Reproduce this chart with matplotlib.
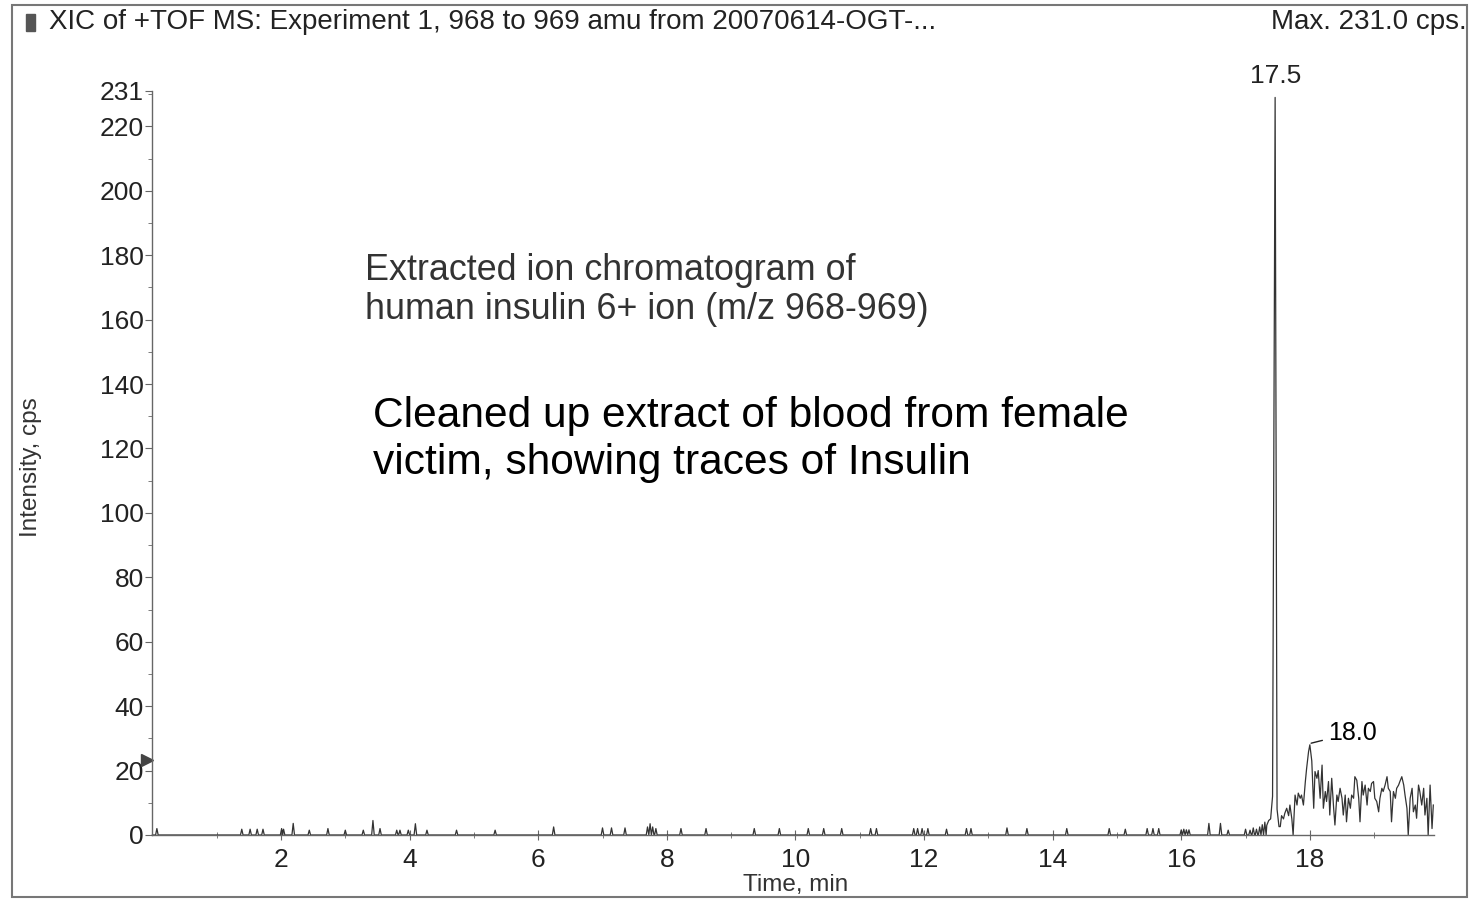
import numpy as np
import matplotlib.pyplot as plt
from matplotlib.patches import Rectangle

plt.rcParams['font.family'] = ['Liberation Sans', 'DejaVu Sans']

# small baseline spikes (time in min, intensity in cps)
spike_t = [0.07, 1.39, 1.52, 1.63, 1.72, 2.01, 2.04, 2.19, 2.44, 2.73, 3.00, 3.28,
           3.43, 3.54, 3.80, 3.85, 3.98, 4.09, 4.27, 4.73, 5.33, 6.24, 7.00, 7.14,
           7.35, 7.70, 7.74, 7.78, 7.83, 8.22, 8.61, 9.36, 9.75, 10.20, 10.44, 10.72,
           11.17, 11.26, 11.84, 11.90, 11.97, 12.06, 12.35, 12.66, 12.73, 13.29, 13.60,
           14.22, 14.88, 15.13, 15.47, 15.56, 15.65, 16.00, 16.04, 16.08, 16.12, 16.43,
           16.61, 16.73, 17.00, 17.07, 17.12, 17.17, 17.22, 17.26, 17.30]
spike_h = [2.0, 1.8, 1.8, 1.8, 1.8, 2.0, 1.8, 3.6, 1.5, 2.0, 1.5, 1.5,
           4.5, 2.0, 1.5, 1.5, 1.5, 3.5, 1.5, 1.5, 1.5, 2.5, 2.2, 2.2,
           2.2, 2.5, 3.5, 2.5, 2.0, 2.0, 2.0, 2.0, 2.0, 2.0, 2.0, 2.0,
           2.0, 2.0, 2.0, 2.0, 2.0, 2.0, 1.8, 2.0, 2.0, 2.2, 2.0,
           2.0, 2.0, 1.8, 2.0, 2.0, 2.0, 1.6, 1.8, 1.6, 1.6, 3.6,
           3.6, 1.5, 1.8, 1.5, 2.2, 1.8, 2.5, 3.2, 4.0]

# main insulin peak
peak_t = [17.33, 17.36, 17.39, 17.42, 17.46, 17.49, 17.52]
peak_h = [3.0, 4.5, 5.0, 12.0, 229.0, 8.0, 2.6]

# noisy tail after the peak
tail_t = [17.54, 17.56, 17.59, 17.61, 17.64, 17.67, 17.69, 17.72, 17.74, 17.77,
          17.80, 17.82, 17.85, 17.87, 17.90, 17.93, 17.95, 17.98, 18.00, 18.03,
          18.06, 18.08, 18.11, 18.13, 18.16, 18.19, 18.21, 18.24, 18.26, 18.29,
          18.31, 18.34, 18.37, 18.39, 18.42, 18.44, 18.47, 18.50, 18.52, 18.55,
          18.57, 18.60, 18.63, 18.65, 18.68, 18.70, 18.73, 18.76, 18.78, 18.81,
          18.83, 18.86, 18.89, 18.91, 18.94, 18.96, 18.99, 19.01, 19.04, 19.07,
          19.09, 19.12, 19.14, 19.17, 19.20, 19.22, 19.25, 19.27, 19.30, 19.33,
          19.35, 19.38, 19.40, 19.43, 19.46, 19.48, 19.51, 19.53, 19.56, 19.59,
          19.61, 19.64, 19.66, 19.69, 19.71, 19.74, 19.77, 19.79, 19.82, 19.84,
          19.87, 19.90, 19.92]
tail_h = [2.6, 6, 5, 6.7, 8.3, 6, 9.3, 5, 0, 12.4,
          9.3, 13, 11.4, 12.4, 9.3, 16.6, 20.7, 25.9, 28, 23,
          8.3, 19.7, 17.6, 20, 11.4, 21.7, 8.3, 13.5, 10.4, 16.6,
          6.2, 17.6, 8.3, 3.1, 12.4, 10.4, 14.5, 11.4, 6.2, 12.4,
          4.1, 11.4, 8.3, 12.4, 11.4, 18.1, 17, 11.4, 4.1, 16.6,
          12.4, 15.5, 9.3, 14.5, 13.5, 16, 16.6, 11.4, 10.4, 7.2,
          11.4, 14.5, 13.5, 15.5, 18.1, 14.5, 13.5, 4.1, 13.5, 11.4,
          14.5, 15.5, 16.6, 18.1, 15.5, 12.4, 8.3, 0, 11.4, 14.5,
          7.2, 9.3, 5.2, 15.5, 13.5, 9.3, 14.5, 6.2, 11.4, 0,
          15.5, 2, 9.3]

x_ticks = [2, 4, 6, 8, 10, 12, 14, 16, 18]
y_ticks = [0, 20, 40, 60, 80, 100, 120, 140, 160, 180, 200, 220, 231]


def build_trace():
    t, y = [0.0], [0.0]
    for st, sh in zip(spike_t, spike_h):
        t += [st - 0.02, st, st + 0.02]
        y += [0.0, sh, 0.0]
    t += peak_t + tail_t
    y += peak_h + tail_h
    return t, y


fig = plt.figure(figsize=(14.78, 8.99), dpi=100)
fig.patch.set_facecolor('white')

# outer frame and header
fig.add_artist(Rectangle((0.0081, 0.0022), 0.9845, 0.9922, transform=fig.transFigure,
                         fill=False, edgecolor='#777777', linewidth=1.5))
fig.add_artist(Rectangle((26 / 1478, 1 - 31 / 899), 9 / 1478, 17 / 899,
                         transform=fig.transFigure, color='#555555'))
fig.text(0.0332, 0.9755, 'XIC of +TOF MS: Experiment 1, 968 to 969 amu from 20070614-OGT-...',
         fontsize=20, color='#222222', va='center', ha='left')
fig.text(0.992, 0.9755, 'Max. 231.0 cps.', fontsize=20, color='#222222', va='center', ha='right')

ax = fig.add_axes([0.1031, 0.0712, 0.8671, 0.8276])
t, y = build_trace()
ax.plot(t, y, color='#333333', linewidth=0.9, clip_on=False)

ax.set_xlim(0, 19.93)
ax.set_ylim(0, 231)
ax.set_xticks(x_ticks)
ax.set_xticks(np.arange(1, 20, 2), minor=True)
ax.set_yticks(y_ticks)
ax.set_yticks(np.arange(10, 231, 20), minor=True)
ax.tick_params(axis='x', which='major', direction='inout', length=7, labelsize=19,
               colors='#666666', labelcolor='#222222', pad=6)
ax.tick_params(axis='x', which='minor', direction='inout', length=5, colors='#666666')
ax.tick_params(axis='y', which='major', direction='out', length=5, labelsize=19,
               colors='#666666', labelcolor='#222222', pad=1)
ax.tick_params(axis='y', which='minor', direction='out', length=3, colors='#666666')
for side in ['top', 'right']:
    ax.spines[side].set_visible(False)
for side in ['left', 'bottom']:
    ax.spines[side].set_color('#666666')
    ax.spines[side].set_linewidth(1)

# small marker left of the y axis
ax.plot([-0.004], [23.3], marker='>', markersize=8, color='#444444',
        transform=ax.get_yaxis_transform(), clip_on=False)

# peak labels
ax.text(17.47, 232, '17.5', fontsize=19, color='#222222', ha='center', va='bottom')
ax.annotate('18.0', xy=(18.02, 28.5), xytext=(18.28, 31.7), fontsize=18, color='black',
            va='center', ha='left',
            arrowprops=dict(arrowstyle='-', color='#222222', linewidth=1, shrinkA=2, shrinkB=0))

fig.text(0.021, 0.48, 'Intensity, cps', rotation=90, fontsize=17.5, color='#333333',
         ha='center', va='center')
fig.text(0.5386, 0.0156, 'Time, min', fontsize=17.5, color='#333333', ha='center', va='center')

fig.text(0.247, 0.6774, 'Extracted ion chromatogram of\nhuman insulin 6+ ion (m/z 968-969)',
         fontsize=25.8, color='#333333', ha='left', va='center', linespacing=1.12)
fig.text(0.2524, 0.5111, 'Cleaned up extract of blood from female\nvictim, showing traces of Insulin',
         fontsize=30.6, color='black', ha='left', va='center', linespacing=1.24)

fig.savefig('out.png', dpi=100)
